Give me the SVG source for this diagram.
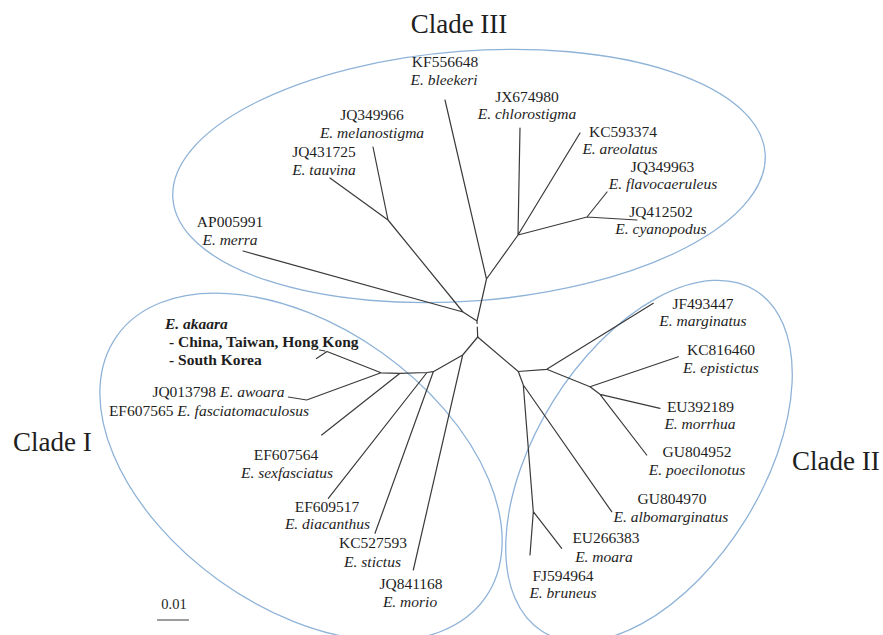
<svg xmlns="http://www.w3.org/2000/svg" width="883" height="635" viewBox="0 0 883 635">
<style>
.bg{fill:#ffffff}
.clade{fill:none;stroke:#8fb3d8;stroke-width:1.3}
.br{fill:none;stroke:#3a3a3a;stroke-width:1.2;stroke-linecap:round;stroke-linejoin:round}
text{font-family:"Liberation Serif","Times New Roman",serif;fill:#1e1e1e}
.lb{font-size:15.5px;text-anchor:middle}
.sp{font-style:italic}
.ttl{font-size:27px}
.bd{font-size:15.5px;font-weight:bold}
.sc{font-size:14.5px;text-anchor:middle}
</style>
<rect class="bg" x="0" y="0" width="883" height="635"/>

<g id="clade-III">
<ellipse class="clade" cx="469" cy="176" rx="297" ry="125" transform="rotate(-4.4 469 176)"/>
<text class="ttl" x="459" y="33" text-anchor="middle">Clade III</text>
</g>
<g id="clade-I">
<ellipse class="clade" cx="301" cy="467" rx="226" ry="140" transform="rotate(35.5 301 467)"/>
<text class="ttl" x="13" y="451">Clade I</text>
</g>
<g id="clade-II">
<ellipse class="clade" cx="649" cy="461" rx="201" ry="113" transform="rotate(-58 649 461)"/>
<text class="ttl" x="792" y="470">Clade II</text>
</g>

<g id="connectors">
<path class="br" d="M486.5,279 L445,100 M486.5,279 L518,235 L520,128 M518,235 L580,133 M518,235 L587,217 L607,192 M587,217 L637,220 M486.5,279 L477,321 L463,312 L243,251 M463,312 L388,220 L330,178 M388,220 L373,147 M477,321 L477.1,323.5 M477.3,327 L477.7,337"/>
<path class="br" d="M477.7,337 L462.7,355 L413.3,570 M462.7,355 L433.3,371.7 L375,533.3 M433.3,371.7 L427,372.5 L328.3,498.3 M427,372.5 L400,373.3 L321.7,435 M400,373.3 L381,372.8 L327,351.5 M327,351.5 L316.5,358.5 M325,351 L319.5,350 M381,372.8 L306.7,400 L288.3,397"/>
<path class="br" d="M477.7,337 L518.3,371.5 L546.7,369.3 L653.3,303.3 M546.7,369.3 L590,386.7 L678.3,356.7 M590,386.7 L600,394.3 L660,408.3 M600,394.3 L646.7,455 M518.3,371.5 L523.3,385 L611.7,511.7 M523.3,385 L533.3,511.7 L561.7,548.3 M533.3,511.7 L530,555"/>
</g>

<g id="KF556648"><text class="lb" x="445" y="67">KF556648</text><text class="lb sp" x="444" y="85">E. bleekeri</text></g>
<g id="JX674980"><text class="lb" x="527" y="102">JX674980</text><text class="lb sp" x="527" y="119">E. chlorostigma</text></g>
<g id="JQ349966"><text class="lb" x="372" y="120">JQ349966</text><text class="lb sp" x="372" y="138">E. melanostigma</text></g>
<g id="KC593374"><text class="lb" x="623" y="137">KC593374</text><text class="lb sp" x="620" y="154">E. areolatus</text></g>
<g id="JQ431725"><text class="lb" x="324" y="157">JQ431725</text><text class="lb sp" x="324" y="175">E. tauvina</text></g>
<g id="JQ349963"><text class="lb" x="662.5" y="172">JQ349963</text><text class="lb sp" x="663" y="189">E. flavocaeruleus</text></g>
<g id="JQ412502"><text class="lb" x="661" y="217">JQ412502</text><text class="lb sp" x="661" y="234">E. cyanopodus</text></g>
<g id="AP005991"><text class="lb" x="230" y="227">AP005991</text><text class="lb sp" x="230" y="245">E. merra</text></g>

<g id="JF493447"><text class="lb" x="703" y="308.5">JF493447</text><text class="lb sp" x="703" y="326">E. marginatus</text></g>
<g id="KC816460"><text class="lb" x="721" y="355">KC816460</text><text class="lb sp" x="721" y="372.5">E. epistictus</text></g>
<g id="EU392189"><text class="lb" x="700.5" y="411.5">EU392189</text><text class="lb sp" x="700" y="429">E. morrhua</text></g>
<g id="GU804952"><text class="lb" x="697" y="457">GU804952</text><text class="lb sp" x="697" y="475">E. poecilonotus</text></g>
<g id="GU804970"><text class="lb" x="672" y="504">GU804970</text><text class="lb sp" x="671" y="521.5">E. albomarginatus</text></g>
<g id="EU266383"><text class="lb" x="606" y="543">EU266383</text><text class="lb sp" x="604" y="561.5">E. moara</text></g>
<g id="FJ594964"><text class="lb" x="563" y="580.5">FJ594964</text><text class="lb sp" x="563" y="598">E. bruneus</text></g>

<g id="E-akaara">
<text class="bd sp" x="165" y="329">E. akaara</text>
<text class="bd" x="169" y="346.5">- China, Taiwan, Hong Kong</text>
<text class="bd" x="169" y="365">- South Korea</text>
</g>
<g id="JQ013798"><text class="lb" x="218.5" y="397">JQ013798 <tspan class="sp">E. awoara</tspan></text></g>
<g id="EF607565"><text class="lb" x="209" y="416">EF607565 <tspan class="sp">E. fasciatomaculosus</tspan></text></g>
<g id="EF607564"><text class="lb" x="286" y="460">EF607564</text><text class="lb sp" x="287" y="478">E. sexfasciatus</text></g>
<g id="EF609517"><text class="lb" x="327" y="511.5">EF609517</text><text class="lb sp" x="327.5" y="529">E. diacanthus</text></g>
<g id="KC527593"><text class="lb" x="373" y="548">KC527593</text><text class="lb sp" x="372.5" y="566.5">E. stictus</text></g>
<g id="JQ841168"><text class="lb" x="411" y="589">JQ841168</text><text class="lb sp" x="410" y="607">E. morio</text></g>

<g id="scale-bar">
<text class="sc" x="174" y="609">0.01</text>
<line class="br" x1="157.5" y1="620" x2="188.5" y2="620"/>
</g>
</svg>
